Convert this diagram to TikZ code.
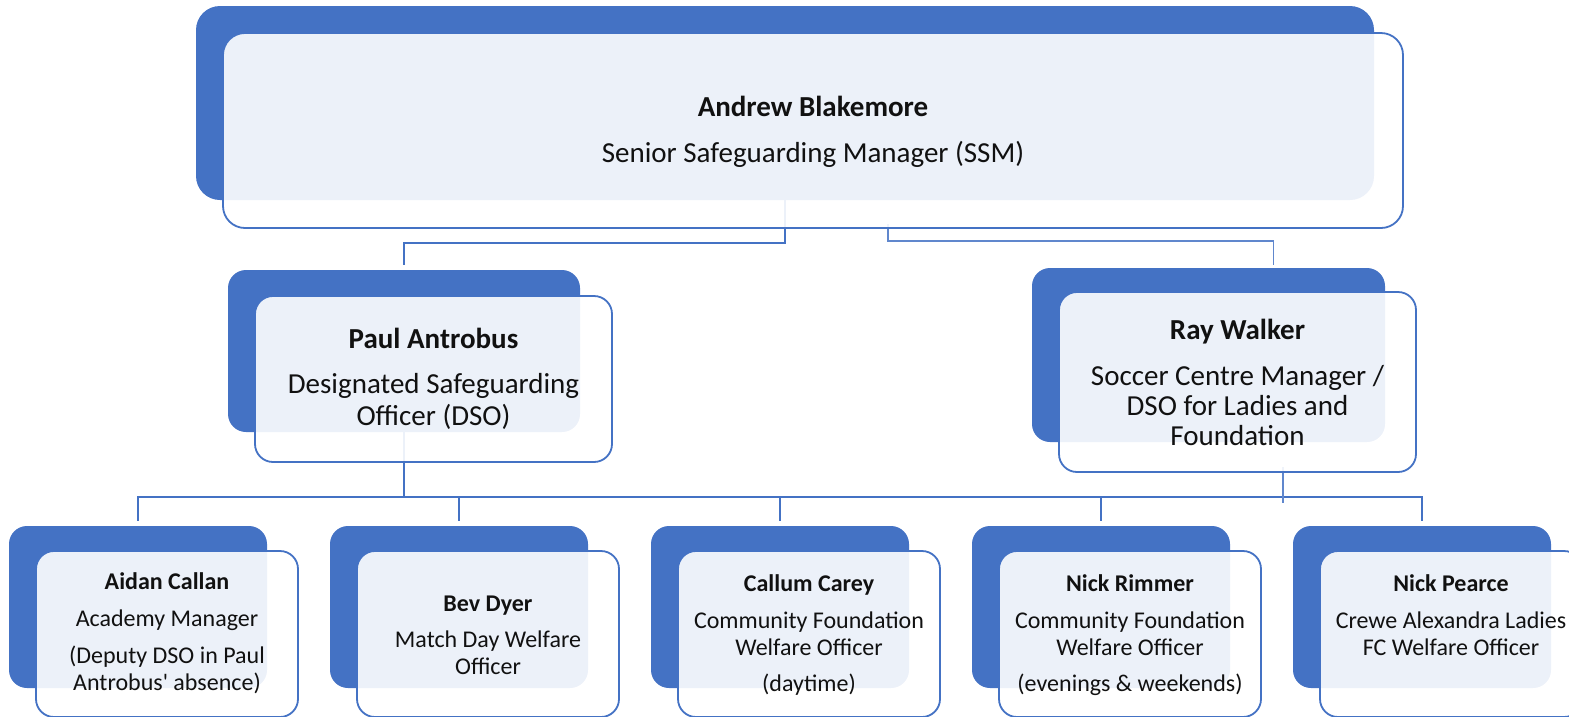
\documentclass[tikz,border=0pt]{standalone}
\usepackage{fontspec}
\setmainfont{Carlito}
\definecolor{bblue}{HTML}{4472C4}
\definecolor{txt}{HTML}{111111}
\begin{document}
\begin{tikzpicture}[x=1pt,y=-1pt,
  backbox/.style={fill=bblue, draw=none, rounded corners=18pt, inner sep=0pt, outer sep=0pt, anchor=north west},
  frontbox/.style={fill=white, fill opacity=0.9, draw=bblue, line width=1.8pt, rounded corners=18pt, inner sep=0pt, outer sep=0pt, anchor=north west},
  conn/.style={draw=bblue, line width=2.2pt},
  thinconn/.style={draw=bblue!85, line width=1.3pt},
  bigtxt/.style={font=\fontsize{29}{32}\selectfont, align=center, anchor=base, text=txt, inner sep=0pt},
  smtxt/.style={font=\fontsize{24}{27}\selectfont, align=center, anchor=base, text=txt, inner sep=0pt}]
\useasboundingbox (0,0) rectangle (1569,716);

% back boxes
\node[backbox, minimum width=1178pt, minimum height=194pt, rounded corners=24pt] (aB) at (196,6) {};
\node[backbox, minimum width=352pt, minimum height=162pt] (pB) at (228,270) {};
\node[backbox, minimum width=353pt, minimum height=174pt] (rB) at (1032,268) {};
\foreach \k in {0,...,4} {
  \node[backbox, minimum width=258pt, minimum height=162pt] (bB\k) at ({9+321*\k},526) {};
}

% connectors
\coordinate (busA) at (0,243);
\coordinate (busR) at (0,241);
\coordinate (busB) at (0,497);
\coordinate (rs) at (888,224);
\coordinate (rl1) at (1283,467);
\coordinate (rl2) at (1283,503);
\draw[conn] (aB.south) -- (aB.south |- busA) -| ([yshift=5pt]pB.north);
\draw[thinconn] (rs) -- (rs |- busR) -| ([xshift=65pt,yshift=3pt]rB.north);
\foreach \k in {0,...,4} {
  \draw[conn] (pB.south) -- (pB.south |- busB) -| ([yshift=5pt]bB\k.north);
}
\draw[thinconn] (rl1) -- (rl2);

% front boxes
\node[frontbox, minimum width=1180pt, minimum height=195pt, rounded corners=22pt] (aF) at (223,33) {};
\node[frontbox, minimum width=357pt, minimum height=166pt] (pF) at (255,296) {};
\node[frontbox, minimum width=357pt, minimum height=180pt] (rF) at (1059,292) {};
\foreach \k in {0,...,4} {
  \node[frontbox, minimum width=262pt, minimum height=166pt] (bF\k) at ({36+321*\k},551) {};
}

% texts (anchor base = baseline of the last line)
\node[bigtxt] (tA) at (813,162) {\textbf{Andrew Blakemore}\\[14pt]Senior Safeguarding Manager (SSM)};
\node[bigtxt] (tP) at (433.5,425) {\textbf{Paul Antrobus}\\[13pt]Designated Safeguarding\\Officer (DSO)};
\node[bigtxt, font=\fontsize{29}{30}\selectfont] (tR) at (1237.5,445) {\textbf{Ray Walker}\\[16pt]Soccer Centre Manager /\\DSO for Ladies and\\Foundation};

\node[smtxt] (t0) at (167,690) {\textbf{Aidan Callan}\\[10pt]Academy Manager\\[10pt](Deputy DSO in Paul\\Antrobus\textquotesingle{} absence)};
\node[smtxt] (t1) at (488,674) {\textbf{Bev Dyer}\\[9pt]Match Day Welfare\\Officer};
\node[smtxt] (t2) at (809,691) {\textbf{Callum Carey}\\[10pt]Community Foundation\\Welfare Officer\\[9pt](daytime)};
\node[smtxt] (t3) at (1130,691) {\textbf{Nick Rimmer}\\[10pt]Community Foundation\\Welfare Officer\\[9pt](evenings \& weekends)};
\node[smtxt] (t4) at (1451,655) {\textbf{Nick Pearce}\\[10pt]Crewe Alexandra Ladies\\FC Welfare Officer};
\end{tikzpicture}
\end{document}
